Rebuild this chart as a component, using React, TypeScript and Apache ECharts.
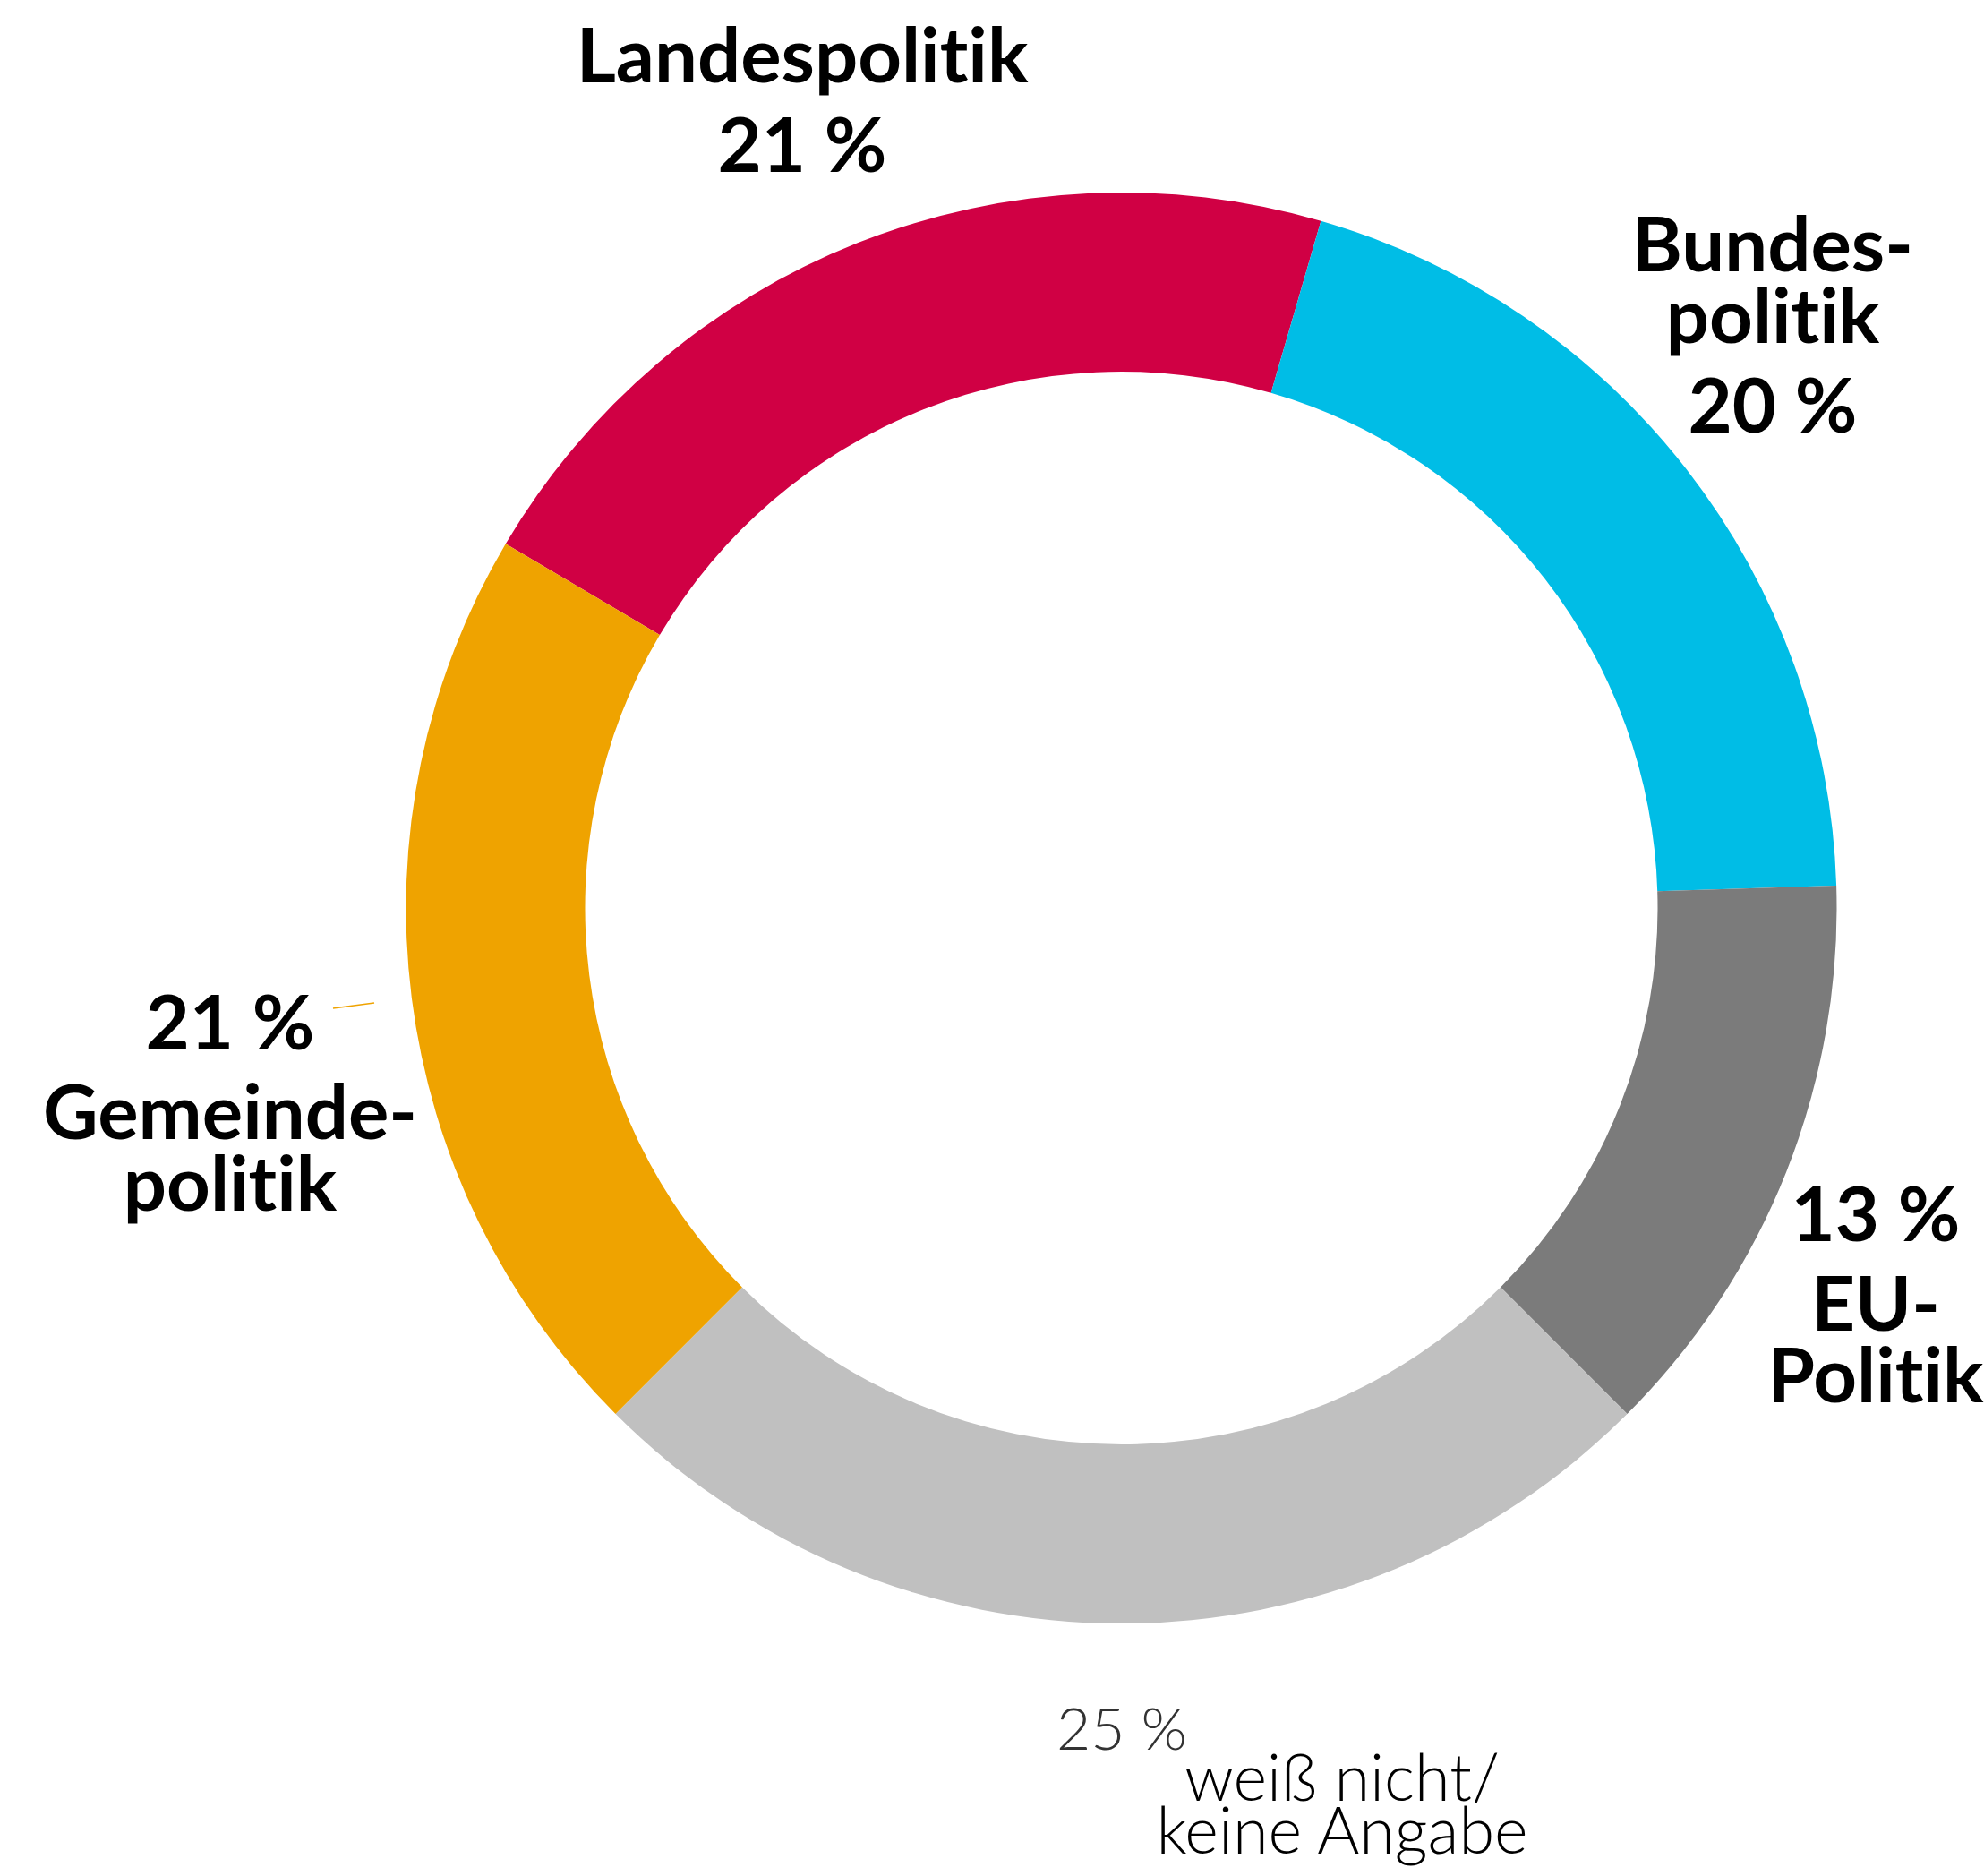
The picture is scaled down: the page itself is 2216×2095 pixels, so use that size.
import React, { useEffect, useRef } from "react";
import * as echarts from "echarts";

const categories = [
  "Landespolitik",
  "Bundes-\npolitik",
  "EU-\nPolitik",
  "weiß nicht/\nkeine Angabe",
  "Gemeinde-\npolitik",
];
const values = [21, 20, 13, 25, 21];
const colors = ["#D00044", "#00BDE6", "#7B7B7B", "#C0C0C0", "#EFA300"];
// whether the percentage is written before the name
const pctFirst = [false, false, true, true, true];
const regularLabel = [false, false, false, true, false];

// label placement (layout, not data)
const LABEL_POS = [
  { x: 896, y: 119, align: "center" },
  { x: 1980, y: 370, align: "center" },
  { x: 2095, y: 1433, align: "center" },
  { x: 1180, y: 1987, align: "left" },
  { x: 257, y: 1219, align: "center" },
];
const WEISS_BLOCK_WIDTH = 638;

export default function App() {
  const ref = useRef<HTMLDivElement>(null);
  useEffect(() => {
    document.body.style.margin = "0";
    const chart = echarts.init(ref.current!, null, { renderer: "svg" });
    const data = categories.map((name, i) => ({
      name,
      value: values[i],
      itemStyle: { color: colors[i] },
      labelLine:
        i === 4
          ? { show: true, lineStyle: { color: colors[4], width: 1.6 } }
          : { show: false },
    }));
    chart.setOption({
      animation: false,
      backgroundColor: "#ffffff",
      series: [
        {
          type: "pie",
          center: [1252.5, 1014],
          radius: [599, 799],
          startAngle: 149.4,
          clockwise: true,
          avoidLabelOverlap: false,
          silent: true,
          data,
          label: {
            show: true,
            position: "outside",
            fontFamily: "Lato",
            formatter: (p: any) => {
              const i = p.dataIndex;
              const pct = `${values[i]} %`;
              const reg = regularLabel[i];
              const nameLines = categories[i]
                .split("\n")
                .map((l) => (reg ? `{wn|${l}}` : `{n|${l}}`));
              const pctLine = reg ? `{wp|${pct}}` : `{p|${pct}}`;
              const lines = pctFirst[i]
                ? [pctLine, ...nameLines]
                : [...nameLines, pctLine];
              return lines.join("\n");
            },
            rich: {
              n: {
                fontFamily: "Lato",
                fontSize: 85,
                fontWeight: "bold",
                lineHeight: 80,
                color: "#000000",
              },
              p: {
                fontFamily: "Lato",
                fontSize: 85,
                fontWeight: "bold",
                lineHeight: 120,
                color: "#000000",
              },
              wp: {
                fontFamily: "Lato",
                fontSize: 66,
                fontWeight: 300,
                lineHeight: 51,
                color: "#333333",
                width: WEISS_BLOCK_WIDTH,
                align: "left",
              },
              wn: {
                fontFamily: "Lato",
                fontSize: 72,
                fontWeight: 300,
                lineHeight: 59,
                color: "#000000",
                align: "center",
              },
            },
          },
          labelLine: { show: false },
          labelLayout: (params: any) => {
            const pos = LABEL_POS[params.dataIndex];
            const out: any = {
              x: pos.x,
              y: pos.y,
              align: pos.align,
              verticalAlign: "middle",
            };
            if (params.dataIndex === 4) {
              out.labelLinePoints = [
                [372, 1126],
                [418, 1120],
              ];
            }
            return out;
          },
        },
      ],
    });
    return () => chart.dispose();
  }, []);
  return (
    <div
      ref={ref}
      style={{ width: 2216, height: 2095, fontVariantLigatures: "none" }}
    />
  );
}
